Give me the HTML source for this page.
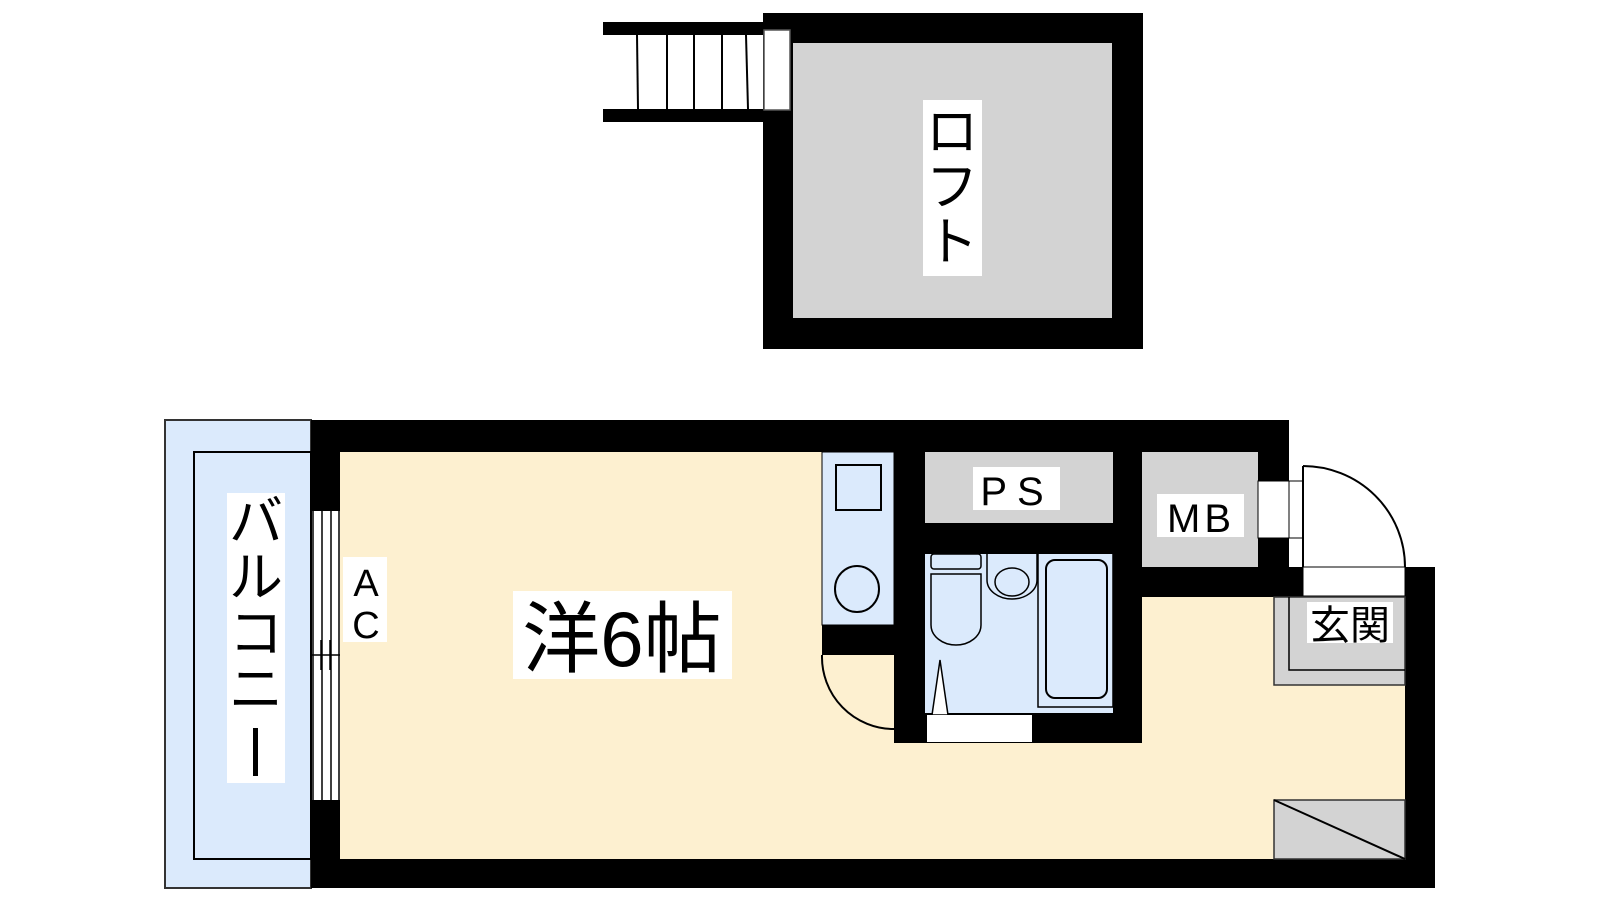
<!DOCTYPE html>
<html><head><meta charset="utf-8"><style>html,body{margin:0;padding:0;background:#fff}svg{display:block}
text{font-family:"Liberation Sans","Noto Sans CJK JP",sans-serif;fill:#000}</style></head><body>
<svg width="1600" height="900" viewBox="0 0 1600 900" xmlns="http://www.w3.org/2000/svg">
<rect width="1600" height="900" fill="#fff"/>
<!-- LOFT -->
<rect x="763" y="13" width="380" height="336" fill="#000"/>
<rect x="793" y="43" width="319" height="275" fill="#d3d3d3"/>
<rect x="603" y="22" width="160" height="13" fill="#000"/>
<rect x="603" y="109" width="160" height="13" fill="#000"/>
<g stroke="#000" stroke-width="2">
<line x1="637" y1="35" x2="638" y2="109"/><line x1="667" y1="35" x2="667" y2="109"/>
<line x1="694" y1="35" x2="694" y2="109"/><line x1="722" y1="35" x2="722" y2="109"/>
<line x1="746" y1="35" x2="748" y2="109"/></g>
<rect x="764" y="30" width="26" height="80" fill="#fff" stroke="#555" stroke-width="1.5"/>
<rect x="923" y="100" width="59" height="176" fill="#fff"/>
<text x="952" y="150" font-size="52" text-anchor="middle">ロ</text>
<text x="952" y="205" font-size="52" text-anchor="middle">フ</text>
<text x="952" y="260" font-size="52" text-anchor="middle">ト</text>

<!-- BALCONY -->
<rect x="165" y="420" width="146" height="468" fill="#dbeafc" stroke="#333" stroke-width="2"/>
<rect x="194" y="452" width="117" height="407" fill="none" stroke="#000" stroke-width="2"/>
<rect x="227" y="493" width="58" height="290" fill="#fff"/>
<text x="256" y="540" font-size="54" text-anchor="middle">バ</text>
<text x="256" y="596" font-size="54" text-anchor="middle">ル</text>
<text x="256" y="652" font-size="54" text-anchor="middle">コ</text>
<text x="256" y="708" font-size="54" text-anchor="middle">ニ</text>
<rect x="253" y="728" width="5" height="48" fill="#000"/>

<!-- MAIN WALLS -->
<rect x="311" y="420" width="978" height="32" fill="#000"/>
<rect x="311" y="420" width="29" height="468" fill="#000"/>
<rect x="311" y="859" width="1124" height="29" fill="#000"/>
<rect x="1405" y="567" width="30" height="321" fill="#000"/>
<rect x="340" y="452" width="1065" height="407" fill="#fdf0d0"/>
<rect x="1289" y="440" width="120" height="127" fill="#fff"/>
<!-- window -->
<rect x="312" y="511" width="28" height="289" fill="#fff"/>
<g stroke="#000" stroke-width="1.5" fill="none">
<line x1="313" y1="511" x2="313" y2="800"/><line x1="322" y1="511" x2="322" y2="800"/>
<line x1="331" y1="511" x2="331" y2="800"/><line x1="339" y1="511" x2="339" y2="800"/>
<line x1="312" y1="655" x2="340" y2="655"/>
<line x1="321" y1="640" x2="321" y2="670"/><line x1="330" y1="640" x2="330" y2="670"/></g>
<rect x="343" y="557" width="44" height="85" fill="#fff"/>
<text x="366" y="596" font-size="38" text-anchor="middle">A</text>
<text x="366" y="638" font-size="38" text-anchor="middle">C</text>

<!-- interior black -->
<rect x="894" y="452" width="248" height="291" fill="#000"/>
<rect x="1142" y="420" width="147" height="177" fill="#000"/>
<rect x="1289" y="567" width="116" height="30" fill="#000"/>
<rect x="822" y="625" width="72" height="30" fill="#000"/>
<!-- kitchen -->
<rect x="822" y="452" width="72" height="173" fill="#dbeafc" stroke="#000" stroke-width="1"/>
<rect x="836" y="465" width="45" height="45" fill="none" stroke="#000" stroke-width="2"/>
<ellipse cx="857" cy="589" rx="22" ry="23" fill="none" stroke="#000" stroke-width="2"/>
<path d="M822 655 A72 72 0 0 0 894 729" fill="none" stroke="#000" stroke-width="2"/>
<!-- PS -->
<rect x="925" y="452" width="188" height="71" fill="#d3d3d3"/>
<rect x="973" y="467" width="87" height="43" fill="#fff"/>
<text x="1017" y="505" font-size="40" text-anchor="middle" letter-spacing="10">PS</text>
<!-- bath -->
<rect x="925" y="554" width="188" height="159" fill="#dbeafc"/>
<rect x="1038" y="550" width="75" height="157" fill="none" stroke="#000" stroke-width="1.5"/>
<rect x="1046" y="560" width="61" height="138" rx="9" fill="none" stroke="#000" stroke-width="2"/>
<rect x="931" y="554" width="50" height="15" rx="3" fill="#dbeafc" stroke="#000" stroke-width="1.5"/>
<path d="M931 574 H981 V625 A25 20 0 0 1 931 625 Z" fill="#dbeafc" stroke="#000" stroke-width="1.5"/>
<path d="M987 554 V580 A25 19 0 0 0 1037 580 V554" fill="#dbeafc" stroke="#000" stroke-width="1.5"/>
<ellipse cx="1012" cy="582" rx="17" ry="14" fill="none" stroke="#000" stroke-width="1.5"/>
<path d="M932 715 L940 660 L948 715 Z" fill="#fff" stroke="#000" stroke-width="1.5"/>
<rect x="927" y="715" width="105" height="27" fill="#fff"/>
<!-- MB -->
<rect x="1142" y="452" width="116" height="115" fill="#d3d3d3"/>
<rect x="1157" y="494" width="87" height="43" fill="#fff"/>
<text x="1201" y="532" font-size="40" text-anchor="middle" letter-spacing="4">MB</text>
<!-- entry door -->
<rect x="1258" y="481" width="31" height="57" fill="#fff" stroke="#000" stroke-width="1"/>
<rect x="1289" y="481" width="14" height="57" fill="#fff" stroke="#000" stroke-width="1"/>
<rect x="1303" y="567" width="102" height="29" fill="#fff" stroke="#000" stroke-width="1"/>
<path d="M1303 466 A102 101 0 0 1 1405 567" fill="none" stroke="#000" stroke-width="2"/>
<line x1="1303" y1="466" x2="1303" y2="567" stroke="#000" stroke-width="2"/>
<!-- genkan -->
<rect x="1274" y="597" width="131" height="88" fill="#d3d3d3" stroke="#333" stroke-width="1.5"/>
<path d="M1289 597 V670 H1405" fill="none" stroke="#000" stroke-width="1.5"/>
<rect x="1307" y="602" width="86" height="41" fill="#fff"/>
<text x="1350" y="639" font-size="40" text-anchor="middle">玄関</text>
<!-- shoe box -->
<rect x="1274" y="800" width="131" height="59" fill="#d3d3d3" stroke="#333" stroke-width="1.5"/>
<line x1="1274" y1="800" x2="1405" y2="859" stroke="#000" stroke-width="2"/>
<!-- room label -->
<rect x="513" y="591" width="219" height="88" fill="#fff"/>
<text x="622" y="666" font-size="78" text-anchor="middle">洋6帖</text>
</svg>
</body></html>
